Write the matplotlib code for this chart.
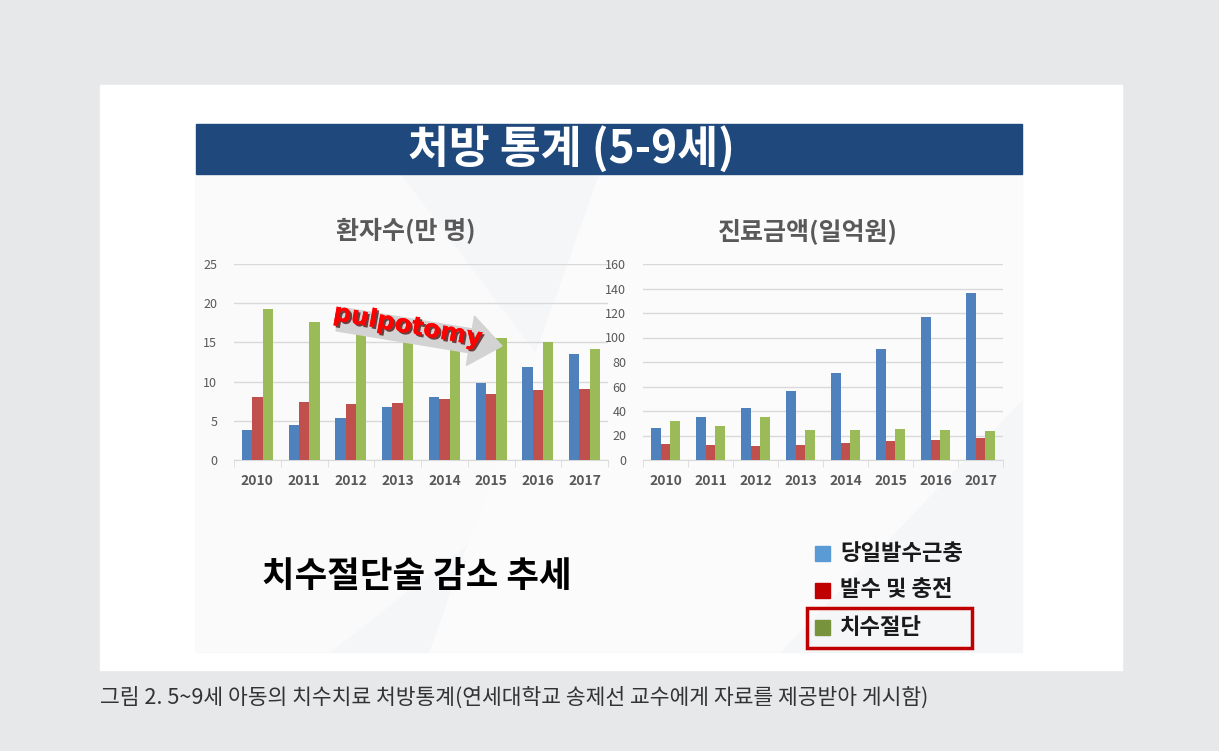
import numpy as np
import matplotlib
matplotlib.use('Agg')
import matplotlib.pyplot as plt
from matplotlib.patches import Rectangle, Polygon
import matplotlib.patheffects as pe

plt.rcParams['font.family'] = ['Noto Sans CJK KR', 'DejaVu Sans']

# data
years = ['2010', '2011', '2012', '2013', '2014', '2015', '2016', '2017']
series_names = ['당일발수근충', '발수 및 충전', '치수절단']

# 환자수(만 명)
patients_pulpectomy = [3.8, 4.5, 5.3, 6.7, 8.0, 9.8, 11.9, 13.5]
patients_filling = [8.0, 7.4, 7.2, 7.3, 7.8, 8.4, 8.9, 9.1]
patients_pulpotomy = [19.2, 17.6, 16.4, 15.6, 15.3, 15.6, 15.1, 14.1]

# 진료금액(일억원)
cost_pulpectomy = [25.8, 35.3, 42.6, 56.1, 71.0, 90.8, 116.9, 136.1]
cost_filling = [13.3, 11.9, 11.7, 12.2, 13.8, 15.2, 16.5, 17.9]
cost_pulpotomy = [31.7, 27.9, 35.0, 24.4, 24.7, 24.9, 24.4, 23.6]

bar_colors = ['#4f81bd', '#c0504d', '#9bbb59']
legend_colors = ['#5b9bd5', '#c00000', '#77933c']

W, H = 1219, 751
fig = plt.figure(figsize=(W / 100, H / 100), dpi=100)
fig.patch.set_facecolor('#e7e8ea')


def px(x0, y0, x1, y1):
    return [x0 / W, 1 - y1 / H, (x1 - x0) / W, (y1 - y0) / H]


# background in pixel coordinates
bg = fig.add_axes([0, 0, 1, 1], zorder=0)
bg.set_xlim(0, W)
bg.set_ylim(H, 0)
bg.axis('off')
bg.add_patch(Rectangle((100, 85), 1022, 585, color='white'))
bg.add_patch(Rectangle((196, 124), 826, 528, color='#f5f6f8'))
bg.add_patch(Polygon([(196, 174), (400, 174), (600, 440), (330, 652), (196, 652)], color='#fafafb'))
bg.add_patch(Polygon([(600, 174), (1022, 174), (1022, 400), (780, 652), (430, 652)], color='#fbfbfc'))
bg.add_patch(Rectangle((196, 124), 826, 50, color='#1f497d'))
bg.text(571, 149, '처방 통계 (5-9세)', color='white', fontsize=32, fontweight='bold',
        ha='center', va='center')
bg.text(406, 231, '환자수(만 명)', color='#595959', fontsize=18, fontweight='bold',
        ha='center', va='center')
bg.text(808, 231, '진료금액(일억원)', color='#595959', fontsize=18, fontweight='bold',
        ha='center', va='center')
bg.text(262, 576, '치수절단술 감소 추세', color='black', fontsize=25.5, fontweight='bold',
        ha='left', va='center')
bg.text(100, 698, '그림 2. 5~9세 아동의 치수치료 처방통계(연세대학교 송제선 교수에게 자료를 제공받아 게시함)',
        color='#333333', fontsize=15.5, ha='left', va='center')


def bar_chart(rect, s1, s2, s3, ymax, step):
    ax = fig.add_axes(rect, zorder=1)
    ax.set_facecolor('none')
    x = np.arange(len(years))
    w = 0.22
    for i, (vals, c) in enumerate(zip([s1, s2, s3], bar_colors)):
        ax.bar(x + (i - 1) * w, vals, w, color=c, zorder=3)
    ax.set_xlim(-0.5, len(years) - 0.5)
    ax.set_ylim(0, ymax)
    ax.set_yticks(np.arange(0, ymax + 1, step))
    ax.yaxis.grid(True, color='#d9d9d9', lw=1)
    ax.set_axisbelow(True)
    for s in ['top', 'right', 'left']:
        ax.spines[s].set_visible(False)
    ax.spines['bottom'].set_color('#d9d9d9')
    ax.set_xticks(x)
    ax.set_xticklabels(years, fontsize=10, fontweight='bold', color='#595959')
    ax.set_xticks(np.arange(-0.5, len(years)), minor=True)
    ax.tick_params(axis='x', which='major', length=0, pad=10)
    ax.tick_params(axis='x', which='minor', length=5, color='#d9d9d9')
    ax.tick_params(axis='y', length=0, labelsize=9, labelcolor='#595959', pad=12)
    return ax


bar_chart(px(234, 264, 608, 460), patients_pulpectomy, patients_filling, patients_pulpotomy, 25, 5)
bar_chart(px(643, 264, 1003, 460), cost_pulpectomy, cost_filling, cost_pulpotomy, 160, 20)

# overlay: arrow, legend
ov = fig.add_axes([0, 0, 1, 1], zorder=2)
ov.set_xlim(0, W)
ov.set_ylim(H, 0)
ov.axis('off')
ov.set_facecolor('none')

start = np.array([338.0, 319.0])
tip = np.array([502.0, 346.0])
d = (tip - start) / np.linalg.norm(tip - start)
n = np.array([-d[1], d[0]])
head_len, body_hw, head_hw = 32, 12, 25
base = tip - d * head_len
arrow_pts = [start + n * body_hw, base + n * body_hw, base + n * head_hw, tip,
             base - n * head_hw, base - n * body_hw, start - n * body_hw]
ov.add_patch(Polygon(arrow_pts, color='#d3d3d3', zorder=1))
ov.text(408, 326, 'pulpotomy', color='#ff0000', fontsize=18, fontweight='bold',
        family='DejaVu Sans', ha='center', va='center', rotation=-10, zorder=2,
        path_effects=[pe.withSimplePatchShadow(offset=(1.5, -1.5), shadow_rgbFace='#400000', alpha=0.7),
                      pe.Normal()])

legend_y = [553, 590, 627]
for name, c, y in zip(series_names, legend_colors, legend_y):
    ov.add_patch(Rectangle((815, y - 7), 15, 15, color=c))
    ov.text(840, y, name, fontsize=16, fontweight='bold', color='#1a1a1a', va='center', ha='left')
ov.add_patch(Rectangle((807, 608), 165, 40, fill=False, edgecolor='#c00000', lw=2.5))

fig.savefig('out.png', dpi=100, facecolor=fig.get_facecolor())
